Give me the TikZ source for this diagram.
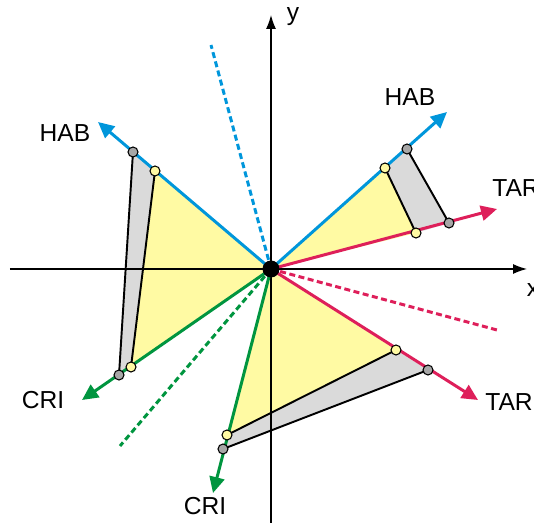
\documentclass[tikz,border=0pt]{standalone}
\usepackage{fontspec}
\setmainfont{Liberation Sans}
\usetikzlibrary{arrows.meta,calc}
\definecolor{habBlue}{HTML}{0096DB}
\definecolor{tarRed}{HTML}{DE1F5A}
\definecolor{criGreen}{HTML}{00953F}
\definecolor{triYellow}{HTML}{FFFAA3}
\definecolor{quadGray}{HTML}{DADADA}
\definecolor{dotGray}{HTML}{A7A7A7}
\tikzset{
    axisline/.style={-{Latex[length=0.28cm,width=0.2cm]},line width=0.7pt,black},
    ray/.style={-{Triangle[length=0.32cm,width=0.3cm]},line width=1.7pt},
    dashray/.style={line width=1.7pt,dash pattern=on 0.12cm off 0.07cm},
    blackedge/.style={line width=1.1pt,black},
    ydot/.style={circle,draw=black,fill=triYellow,line width=0.6pt,inner sep=0pt,minimum size=0.2cm},
    gdot/.style={circle,draw=black,fill=dotGray,line width=0.6pt,inner sep=0pt,minimum size=0.2cm},
    lbl/.style={font=\fontsize{14}{16}\selectfont,inner sep=0pt}
}
\begin{document}
\begin{tikzpicture}[x=0.02cm,y=0.02cm]
    \useasboundingbox (-271,-254) rectangle (263,269);

    % points on the rays
    \coordinate (O) at (0,0);
    \coordinate (a1) at (114,101);  \coordinate (g1) at (136,120);  \coordinate (t1) at (176,157);
    \coordinate (a2) at (145,36);   \coordinate (g2) at (178,46);   \coordinate (t2) at (226,60);
    \coordinate (b1) at (-116,98);  \coordinate (h1) at (-138,117); \coordinate (s1) at (-173,147);
    \coordinate (b2) at (-140,-98); \coordinate (h2) at (-152,-106);\coordinate (s2) at (-189,-131);
    \coordinate (c1) at (125,-81);  \coordinate (k1) at (157,-101); \coordinate (u1) at (207,-131);
    \coordinate (c2) at (-44,-166); \coordinate (k2) at (-48,-180); \coordinate (u2) at (-58,-224);

    % fills
    \fill[triYellow] (O) -- (a1) -- (a2) -- cycle;
    \fill[triYellow] (O) -- (b1) -- (b2) -- cycle;
    \fill[triYellow] (O) -- (c1) -- (c2) -- cycle;
    \fill[quadGray] (a1) -- (g1) -- (g2) -- (a2) -- cycle;
    \fill[quadGray] (b1) -- (h1) -- (h2) -- (b2) -- cycle;
    \fill[quadGray] (c1) -- (k1) -- (k2) -- (c2) -- cycle;

    % axes
    \coordinate (xl) at (-261,0); \coordinate (xr) at (256,0);
    \coordinate (yb) at (0,-254); \coordinate (yt) at (0,254);
    \draw[axisline] (xl) -- (xr);
    \draw[axisline] (yb) -- (yt);
    \node[lbl] (xlab) at (262,-21) {x};
    \node[lbl] (ylab) at (22,252) {y};

    % dashed directions
    \coordinate (d1) at (-60,224); \coordinate (d2) at (226,-61); \coordinate (d3) at (-151,-177);
    \draw[dashray,habBlue] (O) -- (d1);
    \draw[dashray,tarRed] (O) -- (d2);
    \draw[dashray,criGreen] (O) -- (d3);

    % rays
    \draw[ray,habBlue] (O) -- (t1);
    \draw[ray,tarRed] (O) -- (t2);
    \draw[ray,habBlue] (O) -- (s1);
    \draw[ray,criGreen] (O) -- (s2);
    \draw[ray,tarRed] (O) -- (u1);
    \draw[ray,criGreen] (O) -- (u2);

    % black edges
    \draw[blackedge] (a1) -- (a2);
    \draw[blackedge] (g1) -- (g2);
    \draw[blackedge] (b1) -- (b2);
    \draw[blackedge] (h1) -- (h2);
    \draw[blackedge] (c1) -- (c2);
    \draw[blackedge] (k1) -- (k2);

    % dots
    \foreach \p in {a1,a2,b1,b2,c1,c2} \node[ydot] (\p dot) at (\p) {};
    \foreach \p in {g1,g2,h1,h2,k1,k2} \node[gdot] (\p dot) at (\p) {};
    \node[circle,fill=black,inner sep=0pt,minimum size=0.34cm] (origin) at (O) {};

    % labels
    \node[lbl] (hab1) at (139,172) {HAB};
    \node[lbl] (tar1) at (245,81) {TAR};
    \node[lbl] (hab2) at (-206,136) {HAB};
    \node[lbl] (cri1) at (-228,-131) {CRI};
    \node[lbl] (tar2) at (238,-133) {TAR};
    \node[lbl] (cri2) at (-66,-237) {CRI};
\end{tikzpicture}
\end{document}
